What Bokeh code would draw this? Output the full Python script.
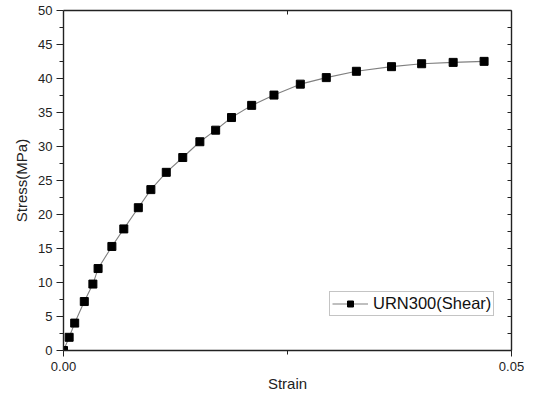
from bokeh.plotting import figure
from bokeh.models import (Range1d, LinearAxis, FixedTicker, Legend, LegendItem,
                          CustomLabelingPolicy)
from bokeh.embed import file_html
from bokeh.resources import INLINE

# Data
strain = [0.0, 0.00063, 0.00125, 0.00232, 0.00328, 0.00386, 0.0054, 0.00673,
          0.00835, 0.00975, 0.01147, 0.01331, 0.01522, 0.01698, 0.01875, 0.0210,
          0.02349, 0.02643, 0.02933, 0.03269, 0.03661, 0.03997, 0.04349, 0.04694]
stress = [0.0, 1.94, 4.03, 7.2, 9.77, 12.05, 15.3, 17.88,
          21.0, 23.66, 26.2, 28.38, 30.7, 32.4, 34.26, 36.05,
          37.56, 39.17, 40.13, 41.06, 41.74, 42.17, 42.37, 42.52]
series_name = "URN300(Shear)"
x_label = "Strain"
y_label = "Stress(MPa)"
x_ticks = [0.0, 0.05]
x_tick_labels = ["0.00", "0.05"]
x_minor = [0.025]
y_ticks = [0, 5, 10, 15, 20, 25, 30, 35, 40, 45, 50]
y_minor = [2.5, 7.5, 12.5, 17.5, 22.5, 27.5, 32.5, 37.5, 42.5, 47.5]

FONT = "Liberation Sans"
AX = "#222222"
TXT = "#222222"

p = figure(width=524, height=394, output_backend="svg", toolbar_location=None,
           x_range=Range1d(0, 0.05), y_range=Range1d(0, 50),
           x_axis_label=x_label, y_axis_label=y_label,
           min_border_left=63, min_border_right=13, min_border_top=10, min_border_bottom=44)
p.grid.visible = False
p.outline_line_color = None
p.background_fill_color = "white"
p.border_fill_color = "white"

# bottom axis
xa = p.xaxis[0]
xa.ticker = FixedTicker(ticks=x_ticks, minor_ticks=x_minor)
xa.major_label_overrides = {t: l for t, l in zip(x_ticks, x_tick_labels)}
xa.major_tick_out = 6
xa.major_tick_in = 0
xa.minor_tick_out = 4
xa.minor_tick_in = 0
xa.major_label_standoff = 5
xa.axis_label_standoff = 1
xa.major_label_text_font = FONT
xa.major_label_text_font_size = "13px"
xa.major_label_text_color = TXT
xa.axis_label_text_font = FONT
xa.axis_label_text_font_size = "15px"
xa.axis_label_text_font_style = "normal"
xa.axis_label_text_color = TXT
xa.axis_line_color = AX
xa.axis_line_width = 1.4
xa.major_tick_line_color = AX
xa.minor_tick_line_color = AX

# left axis
ya = p.yaxis[0]
ya.ticker = FixedTicker(ticks=y_ticks, minor_ticks=y_minor)
ya.major_tick_out = 7
ya.major_tick_in = 0
ya.minor_tick_out = 4
ya.minor_tick_in = 0
ya.major_label_standoff = 4
ya.axis_label_standoff = 5
ya.major_label_text_font = FONT
ya.major_label_text_font_size = "13px"
ya.major_label_text_color = TXT
ya.axis_label_text_font = FONT
ya.axis_label_text_font_size = "15px"
ya.axis_label_text_font_style = "normal"
ya.axis_label_text_color = TXT
ya.axis_line_color = AX
ya.axis_line_width = 1.4
ya.major_tick_line_color = AX
ya.minor_tick_line_color = AX

# right axis (ticks inward, no labels)
ra = LinearAxis(ticker=FixedTicker(ticks=y_ticks, minor_ticks=y_minor),
                major_tick_in=4, major_tick_out=0, minor_tick_in=4, minor_tick_out=0,
                major_label_policy=CustomLabelingPolicy(code="return [];"),
                major_label_text_font_size="1px", major_label_standoff=0,
                axis_line_color=AX, axis_line_width=1.4,
                major_tick_line_color=AX, minor_tick_line_color=AX)
p.add_layout(ra, "right")

# top axis (tick inward, no labels)
ta = LinearAxis(ticker=FixedTicker(ticks=x_minor, minor_ticks=[]),
                major_tick_in=4, major_tick_out=0, minor_tick_in=0, minor_tick_out=0,
                major_label_policy=CustomLabelingPolicy(code="return [];"),
                major_label_text_font_size="1px", major_label_standoff=0,
                axis_line_color=AX, axis_line_width=1.4,
                major_tick_line_color=AX, minor_tick_line_color=AX)
p.add_layout(ta, "above")

ln = p.line(strain, stress, line_color="#808080", line_width=1.1)
sc = p.scatter(strain, stress, marker="square", size=8, fill_color="black", line_color="black")

legend = Legend(items=[LegendItem(label=series_name, renderers=[ln, sc])],
                location=(266, 34), orientation="vertical",
                label_text_font=FONT, label_text_font_size="16.5px", label_text_color="#111111",
                glyph_width=36, glyph_height=15, label_height=15, label_standoff=5,
                padding=2, spacing=0, margin=0,
                border_line_color="#8a8a8a", border_line_width=1,
                background_fill_color="white", background_fill_alpha=1)
p.add_layout(legend, "center")

open("out.html", "w").write(file_html(p, INLINE))
